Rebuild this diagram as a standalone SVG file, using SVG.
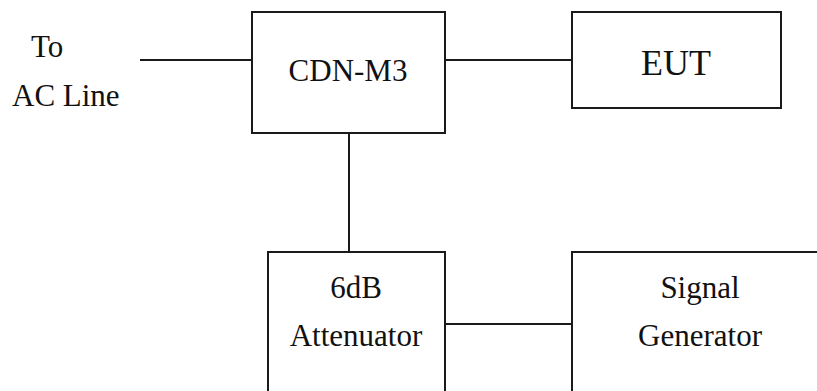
<svg xmlns="http://www.w3.org/2000/svg" width="817" height="391" viewBox="0 0 817 391">
<defs>
<style>
.box{fill:#fff;stroke:#1a1a1a;stroke-width:2}
.wire{stroke:#1a1a1a;stroke-width:2;fill:none}
.t{font-family:Liberation Serif, serif;font-size:31px;fill:#111}
</style>
</defs>
<rect width="817" height="391" fill="#fff"/>
<g id="connectors">
<line class="wire" x1="140" y1="60" x2="252" y2="60"/>
<line class="wire" x1="445" y1="60" x2="572" y2="60"/>
<line class="wire" x1="349" y1="133" x2="349" y2="252"/>
<line class="wire" x1="445" y1="324" x2="572" y2="324"/>
</g>
<g id="label-ac">
<text class="t" x="31" y="57">To</text>
<text class="t" x="12" y="106">AC Line</text>
</g>
<g id="cdn">
<rect class="box" x="252" y="12" width="193" height="121"/>
<text class="t" x="348" y="81" text-anchor="middle">CDN-M3</text>
</g>
<g id="eut">
<rect class="box" x="572" y="12" width="209" height="96"/>
<text class="t" x="676" y="75" text-anchor="middle" style="font-size:36px">EUT</text>
</g>
<g id="attenuator">
<rect class="box" x="268" y="252" width="177" height="160"/>
<text class="t" x="356" y="298" text-anchor="middle">6dB</text>
<text class="t" x="356" y="346" text-anchor="middle">Attenuator</text>
</g>
<g id="signal-generator">
<rect class="box" x="572" y="252" width="270" height="160"/>
<text class="t" x="700" y="298" text-anchor="middle">Signal</text>
<text class="t" x="700" y="346" text-anchor="middle">Generator</text>
</g>
</svg>
